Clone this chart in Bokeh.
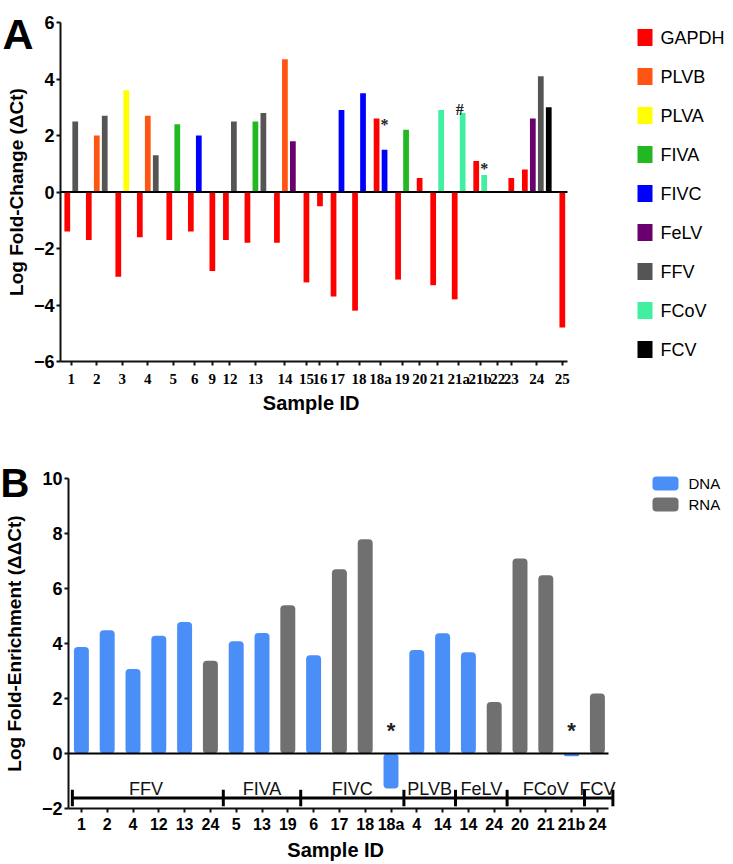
import math
from bokeh.plotting import figure
from bokeh.models import Range1d, FixedTicker, ColumnDataSource
from bokeh.layouts import column
from bokeh.embed import file_html
from bokeh.resources import INLINE
from bokeh.core.properties import value

# ---------------- Panel A data ----------------
samples_a = ["1", "2", "3", "4", "5", "6", "9", "12", "13", "14", "15", "16", "17",
             "18", "18a", "19", "20", "21", "21a", "21b", "22", "23", "24", "25"]
genes_a = ["GAPDH", "PLVB", "PLVA", "FIVA", "FIVC", "FeLV", "FFV", "FCoV", "FCV"]
colors_a = ["#ff0000", "#ff5512", "#ffff00", "#22b822", "#0000ff", "#6a0070",
            "#555555", "#40f0a0", "#000000"]

gapdh = {"1": -1.4, "2": -1.7, "3": -3.0, "4": -1.6, "5": -1.7, "6": -1.4, "9": -2.8,
         "12": -1.7, "13": -1.8, "14": -1.8, "15": -3.2, "16": -0.5, "17": -3.7,
         "18": -4.2, "18a": 2.6, "19": -3.1, "20": 0.5, "21": -3.3, "21a": -3.8,
         "21b": 1.1, "23": 0.5, "24": 0.8, "25": -4.8}
plvb = {"2": 2.0, "4": 2.7, "14": 4.7}
plva = {"3": 3.6}
fiva = {"5": 2.4, "13": 2.5, "19": 2.2}
fivc = {"6": 2.0, "17": 2.9, "18": 3.5, "18a": 1.5}
felv = {"14": 1.8, "24": 2.6}
ffv = {"1": 2.5, "2": 2.7, "4": 1.3, "12": 2.5, "13": 2.8, "24": 4.1}
fcov = {"21": 2.9, "21a": 2.8, "21b": 0.6}
fcv = {"24": 3.0}
series_a = [gapdh, plvb, plva, fiva, fivc, felv, ffv, fcov, fcv]
yticks_a = [-6, -4, -2, 0, 2, 4, 6]

# annotation marks: (text, sample, gene giving y, gene giving x, dx px, dy px)
ann_a = [("*", "18a", "GAPDH", "FIVC", 0, 6),
         ("#", "21a", "FCoV", "FCoV", -3, -3),
         ("*", "21b", "FCoV", "FCoV", 0, -7)]

# ---------------- Panel B data ----------------
groups_b = ["FFV", "FIVA", "FIVC", "PLVB", "FeLV", "FCoV", "FCV"]
group_sizes_b = [6, 3, 4, 2, 2, 3, 1]
samples_b = ["1", "2", "4", "12", "13", "24", "5", "13", "19", "6", "17", "18", "18a",
             "4", "14", "14", "24", "20", "21", "21b", "24"]
values_b = [3.87, 4.48, 3.07, 4.28, 4.78, 3.37, 4.08, 4.38, 5.39, 3.57, 6.70, 7.79,
            -1.27, 3.76, 4.37, 3.68, 1.87, 7.09, 6.48, -0.10, 2.18]
types_b = ["DNA", "DNA", "DNA", "DNA", "DNA", "RNA", "DNA", "DNA", "RNA", "DNA", "RNA",
           "RNA", "DNA", "DNA", "DNA", "DNA", "RNA", "RNA", "RNA", "DNA", "RNA"]
type_names_b = ["DNA", "RNA"]
type_colors_b = ["#4a8ff7", "#707070"]
star_b = ["18a", "21b"]
yticks_b = [-2, 0, 2, 4, 6, 8, 10]

SANS = "Liberation Sans"
SERIF = "Liberation Serif"
W = 725


def make_fig(H, ax_l, ax_r, x0, x1, ax_top, ax_bot, y0, y1):
    """Figure whose frame is the whole canvas; axes are drawn at fixed data
    locations.  ax_* are pixel positions (inside the figure) of the plot box."""
    kx = (ax_r - ax_l) / (x1 - x0)
    ky = (ax_bot - ax_top) / (y1 - y0)
    xr = Range1d(x0 - ax_l / kx, x1 + (W - ax_r) / kx)
    yr = Range1d(y0 - (H - ax_bot) / ky, y1 + ax_top / ky)
    p = figure(width=W, height=H, output_backend="svg", toolbar_location=None,
               x_range=xr, y_range=yr, min_border=0, min_border_left=0,
               min_border_right=0, min_border_top=0, min_border_bottom=0)
    p.extra_x_ranges = {"px": Range1d(0, W)}
    p.extra_y_ranges = {"px": Range1d(0, H)}
    p.outline_line_color = None
    p.grid.visible = False
    p.xaxis.fixed_location = y0
    p.xaxis.bounds = (x0, x1)
    p.yaxis.fixed_location = x0
    p.yaxis.bounds = (y0, y1)
    for ax in (p.xaxis[0], p.yaxis[0]):
        ax.axis_line_width = 2
        ax.axis_line_color = "#111111"
        ax.major_tick_line_width = 2
        ax.major_tick_line_color = "#111111"
        ax.major_tick_in = 0
        ax.major_tick_out = 4
        ax.minor_tick_out = 0
        ax.minor_tick_in = 0
        ax.major_label_text_color = "black"
        ax.axis_label_text_color = "black"
        ax.axis_label_text_font = SANS
        ax.axis_label_text_font_style = "bold"
    return p


# ================= Panel A =================
HA = 418
GAP = 0.7
bar_x = {}
tick_pos, tick_lab = [], []
slot = 0
for gi, s in enumerate(samples_a):
    present = [g for g, d in zip(genes_a, series_a) if s in d]
    n = max(1, len(present))
    base = slot + gi * GAP
    for k, g in enumerate(present):
        bar_x[(s, g)] = base + k
    tick_pos.append(round(base + (n - 1) / 2.0, 3))
    tick_lab.append(s)
    slot += n
xa0, xa1 = -0.85, max(bar_x.values()) + 0.65

pa = make_fig(HA, 60, 567, xa0, xa1, 22, 361, yticks_a[0], yticks_a[-1])

for g, c, d in zip(genes_a, colors_a, series_a):
    keys = [s for s in samples_a if s in d]
    src = ColumnDataSource(dict(x=[bar_x[(s, g)] for s in keys], top=[d[s] for s in keys]))
    pa.vbar(x="x", top="top", bottom=0, width=0.72, source=src,
            fill_color=c, line_color=None)

pa.segment(x0=[xa0], y0=[0], x1=[xa1], y1=[0], line_color="black", line_width=2)

lookup = dict(zip(genes_a, series_a))
for txt, s, gy, gx, dx, dy in ann_a:
    pa.text(x=[bar_x[(s, gx)]], y=[lookup[gy][s]], text=[txt], x_offset=dx, y_offset=dy,
            text_align="center", text_baseline="alphabetic",
            text_font=value(SERIF), text_font_style="bold", text_font_size="16px",
            text_color="#222222")

# legend (pixel coordinates)
ly = [HA - (37 + 39 * i) for i in range(len(genes_a))]
pa.rect(x=[644.5] * len(genes_a), y=ly, width=15, height=17, fill_color=colors_a,
        line_color=None, x_range_name="px", y_range_name="px")
pa.text(x=[660] * len(genes_a), y=ly, text=genes_a, text_align="left",
        text_baseline="middle", text_font=value(SANS), text_font_size="18px",
        text_color="black", x_range_name="px", y_range_name="px")
pa.text(x=[2], y=[HA - 33], text=["A"], text_align="left", text_baseline="alphabetic",
        text_font=value(SANS), text_font_style="bold", text_font_size="43px",
        text_color="black", x_range_name="px", y_range_name="px")

xa = pa.xaxis[0]
xa.ticker = FixedTicker(ticks=tick_pos)
xa.major_label_overrides = {p: l for p, l in zip(tick_pos, tick_lab)}
xa.major_label_text_font = SERIF
xa.major_label_text_font_style = "bold"
xa.major_label_text_font_size = "15px"
xa.major_label_standoff = 5
xa.axis_label = "Sample  ID"
xa.axis_label_text_font_size = "20px"
xa.axis_label_standoff = 2

ya = pa.yaxis[0]
ya.ticker = FixedTicker(ticks=yticks_a)
ya.major_label_text_font = SANS
ya.major_label_text_font_style = "bold"
ya.major_label_text_font_size = "18px"
ya.major_label_standoff = 2
ya.axis_label = "Log Fold-Change (ΔCt)"
ya.axis_label_text_font_size = "19px"
ya.axis_label_standoff = 4

# ================= Panel B =================
HB = 446
nb = len(values_b)
xb = list(range(nb))
xb0, xb1 = -0.5, nb - 0.57

pb = make_fig(HB, 68, 608, xb0, xb1, 60, 390, yticks_b[0], yticks_b[-1])

for t, col in zip(type_names_b, type_colors_b):
    idx = [i for i in range(nb) if types_b[i] == t]
    src = ColumnDataSource(dict(x=[xb[i] for i in idx], top=[values_b[i] for i in idx]))
    pb.vbar(x="x", top="top", bottom=0, width=0.58, source=src,
            fill_color=col, line_color=None, border_radius=4)

pb.segment(x0=[xb0], y0=[0], x1=[xb1], y1=[0], line_color="black", line_width=2)

# group brackets and labels
bounds = [-0.35]
c = 0
for n in group_sizes_b:
    c += n
    bounds.append(c - 0.5)
bounds[-1] = nb - 0.4
pb.segment(x0=[bounds[0]], y0=[-1.62], x1=[bounds[-1]], y1=[-1.62],
           line_color="black", line_width=3)
pb.segment(x0=bounds, y0=[-1.32] * len(bounds), x1=bounds, y1=[-1.92] * len(bounds),
           line_color="black", line_width=3)
centers = []
c = 0
for n in group_sizes_b:
    centers.append(c + (n - 1) / 2.0)
    c += n
pb.text(x=centers, y=[-1.3] * len(centers), text=groups_b, text_align="center",
        text_baseline="alphabetic", text_font=value(SANS), text_font_size="18px",
        text_color="#111111")

sx = [i for i in range(nb) if samples_b[i] in star_b and types_b[i] == "DNA"]
pb.text(x=sx, y=[0.85] * len(sx), text=["*"] * len(sx), text_align="center",
        text_baseline="alphabetic", text_font=value(SANS), text_font_style="bold",
        text_font_size="22px", text_color="#222222")

# legend (pixel coordinates)
lby = [HB - (65 + 21 * i) for i in range(len(type_names_b))]
pb.quad(left=[652] * 2, right=[678] * 2, bottom=[y - 7 for y in lby],
        top=[y + 7 for y in lby], fill_color=type_colors_b, line_color=None,
        border_radius=4, x_range_name="px", y_range_name="px")
pb.text(x=[688] * 2, y=lby, text=type_names_b, text_align="left",
        text_baseline="middle", text_font=value(SANS), text_font_size="15px",
        text_color="black", x_range_name="px", y_range_name="px")
pb.text(x=[0], y=[HB - 64], text=["B"], text_align="left", text_baseline="alphabetic",
        text_font=value(SANS), text_font_style="bold", text_font_size="40px",
        text_color="black", x_range_name="px", y_range_name="px")

xbx = pb.xaxis[0]
xbx.ticker = FixedTicker(ticks=xb)
xbx.major_label_overrides = {i: s for i, s in zip(xb, samples_b)}
xbx.major_label_text_font = SANS
xbx.major_label_text_font_style = "bold"
xbx.major_label_text_font_size = "16px"
xbx.major_label_standoff = 3
xbx.axis_label = "Sample  ID"
xbx.axis_label_text_font_size = "20px"
xbx.axis_label_standoff = 3

yb = pb.yaxis[0]
yb.ticker = FixedTicker(ticks=yticks_b)
yb.major_label_text_font = SANS
yb.major_label_text_font_style = "bold"
yb.major_label_text_font_size = "18px"
yb.major_label_standoff = 2
yb.axis_label = "Log Fold-Enrichment (ΔΔCt)"
yb.axis_label_text_font_size = "19px"
yb.axis_label_standoff = 14

layout = column(pa, pb, spacing=0)
open("out.html", "w").write(file_html(layout, INLINE))
